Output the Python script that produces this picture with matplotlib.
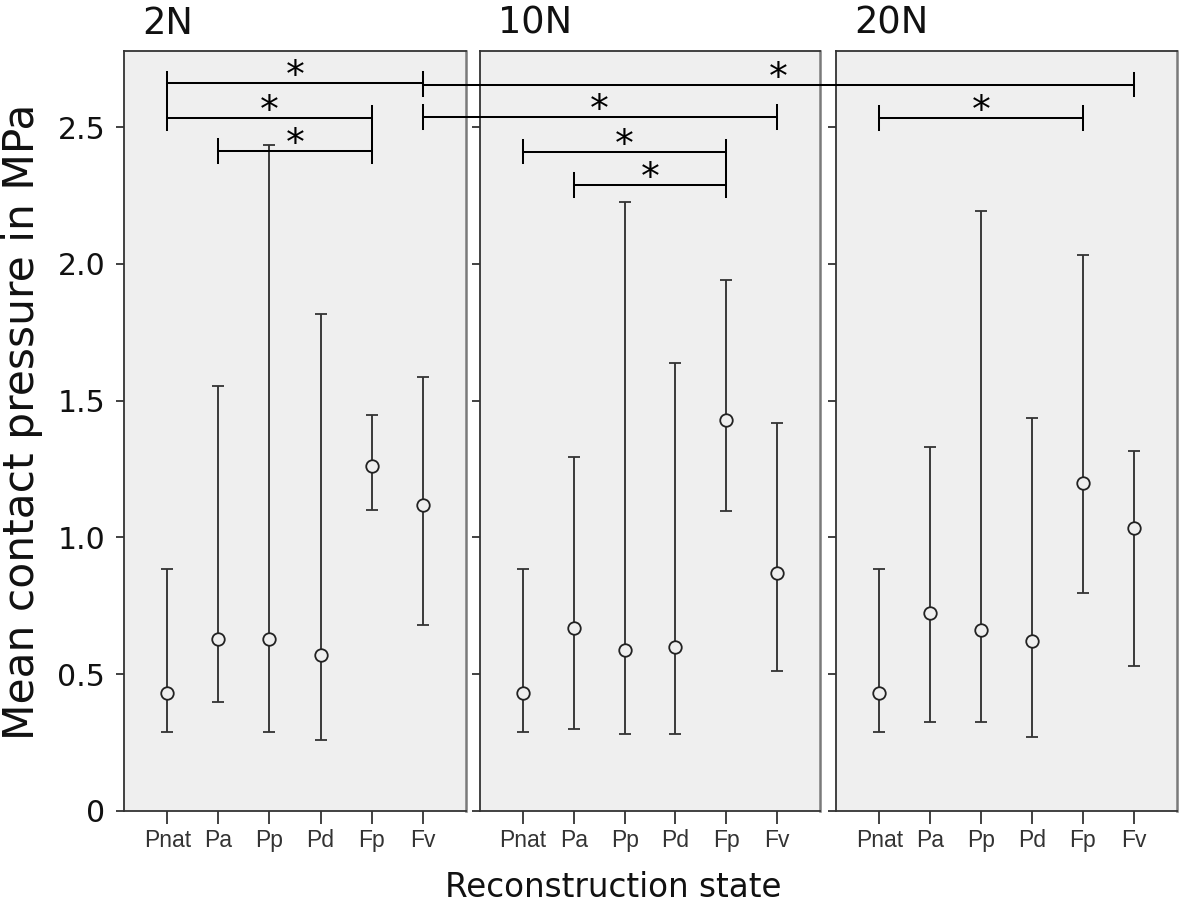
import matplotlib
matplotlib.use("Agg")
import matplotlib.pyplot as plt
import matplotlib.transforms as mtransforms
from matplotlib.lines import Line2D
import numpy as np

# ---------------- data ----------------
CATEGORIES = ["Pnat", "Pa", "Pp", "Pd", "Fp", "Fv"]
LOADS = ["2N", "10N", "20N"]

MEAN_2N = [0.43, 0.63, 0.63, 0.57, 1.26, 1.12]
LOW_2N = [0.29, 0.40, 0.29, 0.26, 1.10, 0.68]
HIGH_2N = [0.886, 1.552, 2.434, 1.816, 1.447, 1.587]

MEAN_10N = [0.43, 0.67, 0.59, 0.60, 1.43, 0.87]
LOW_10N = [0.29, 0.30, 0.283, 0.28, 1.095, 0.511]
HIGH_10N = [0.886, 1.293, 2.227, 1.636, 1.942, 1.417]

MEAN_20N = [0.43, 0.725, 0.662, 0.623, 1.20, 1.034]
LOW_20N = [0.29, 0.327, 0.324, 0.272, 0.798, 0.529]
HIGH_20N = [0.886, 1.332, 2.194, 1.435, 2.033, 1.317]

Y_TICKS = [0, 0.5, 1.0, 1.5, 2.0, 2.5]
Y_TICK_LABELS = ["0", "0.5", "1.0", "1.5", "2.0", "2.5"]

# significance brackets: (panel_from, cat_from, panel_to, cat_to, level)
BRACKETS = [
    (0, "Pnat", 0, "Fv", 2.660),
    (0, "Fv", 2, "Fv", 2.655),
    (0, "Pnat", 0, "Fp", 2.533),
    (0, "Pa", 0, "Fp", 2.413),
    (0, "Fv", 1, "Fv", 2.537),
    (1, "Pnat", 1, "Fp", 2.410),
    (1, "Pa", 1, "Fp", 2.288),
    (2, "Pnat", 2, "Fp", 2.534),
]
# bracket ends whose ticks are drawn as one joined vertical line
JOINED_ENDS = [(0, "Pnat"), (0, "Fp"), (1, "Fp")]

means = [MEAN_2N, MEAN_10N, MEAN_20N]
lows = [LOW_2N, LOW_10N, LOW_20N]
highs = [HIGH_2N, HIGH_10N, HIGH_20N]

# ---------------- figure ----------------
W, H = 1181, 906
fig = plt.figure(figsize=(W / 100, H / 100), dpi=100)

panel_px = [(124, 466), (480, 820), (836, 1177)]
top_px, bot_px = 51, 811

BG = "#efefef"
DARK = "#333333"

axes = []
for i, (l, r) in enumerate(panel_px):
    ax = fig.add_axes([l / W, 1 - bot_px / H, (r - l) / W, (bot_px - top_px) / H])
    ax.set_facecolor(BG)
    x = np.arange(len(CATEGORIES))
    m = np.array(means[i])
    lo = np.array(lows[i])
    hi = np.array(highs[i])
    ax.errorbar(x, m, yerr=[m - lo, hi - m], fmt="o", color=DARK,
                ecolor=DARK, elinewidth=1.35, capsize=4.6, capthick=1.35,
                ms=9, mfc=BG, mec="#222222", mew=1.3, zorder=3)
    ax.set_xlim(-0.85, len(CATEGORIES) - 1 + 0.85)
    ax.set_ylim(0, 2.778)
    ax.set_xticks(x)
    ax.set_xticklabels(CATEGORIES, fontsize=16.5, family="Liberation Sans",
                       color="#333333")
    ax.set_yticks(Y_TICKS)
    if i == 0:
        ax.set_yticklabels(Y_TICK_LABELS, fontsize=21.5, color="#111111")
    else:
        ax.set_yticklabels([])
    ax.tick_params(axis="x", direction="out", length=9.5, width=1.3,
                   color=DARK, pad=3.5)
    ax.tick_params(axis="y", direction="out", length=5.5, width=1.3,
                   color=DARK, pad=8)
    for side in ["left", "top", "bottom"]:
        ax.spines[side].set_color(DARK)
        ax.spines[side].set_linewidth(1.3)
    ax.spines["right"].set_color("#7a7a7a")
    ax.spines["right"].set_linewidth(1.8)
    axes.append(ax)
    fig.text((l + 18) / W, 1 - 33.5 / H, LOADS[i], fontsize=26.5,
             ha="left", va="baseline", color="#111111")

fig.text(22 / W, 1 - 422 / H, "Mean contact pressure in MPa", rotation=90,
         fontsize=30.5, ha="center", va="center", color="#111111")
fig.text(613 / W, 9 / H, "Reconstruction state", fontsize=23.5,
         ha="center", va="baseline", color="#111111")

# ---------------- significance brackets ----------------
inv = fig.transFigure.inverted()


def to_fig(panel, cat, level):
    ax = axes[panel]
    disp = ax.transData.transform((CATEGORIES.index(cat), level))
    return inv.transform(disp)


HALF = 0.043  # half height of bracket end ticks (data units)
LW = 1.45
ends = {}
for (pa, ca, pb, cb, lev) in BRACKETS:
    p0 = to_fig(pa, ca, lev)
    p1 = to_fig(pb, cb, lev)
    fig.add_artist(Line2D([p0[0], p1[0]], [p0[1], p0[1]], color="black",
                          lw=LW, transform=fig.transFigure))
    ends.setdefault((pa, ca, "L"), []).append(lev)
    ends.setdefault((pb, cb, "R"), []).append(lev)
    # star
    mid = (p0[0] + p1[0]) / 2
    trans = mtransforms.offset_copy(fig.transFigure, fig=fig, x=0, y=-4,
                                    units="dots")
    fig.text(mid, p0[1], "*", fontsize=27, ha="center", va="baseline",
             color="black", transform=trans)

for (panel, cat, side), levels in ends.items():
    if (panel, cat) in JOINED_ENDS:
        top = max(levels) + HALF
        bot = min(levels) - HALF
        a = to_fig(panel, cat, top)
        b = to_fig(panel, cat, bot)
        fig.add_artist(Line2D([a[0], b[0]], [a[1], b[1]], color="black",
                              lw=LW, transform=fig.transFigure))
    else:
        for lev in levels:
            a = to_fig(panel, cat, lev + HALF)
            b = to_fig(panel, cat, lev - HALF)
            fig.add_artist(Line2D([a[0], b[0]], [a[1], b[1]], color="black",
                                  lw=LW, transform=fig.transFigure))

fig.savefig("out.png", dpi=100, facecolor="white")
